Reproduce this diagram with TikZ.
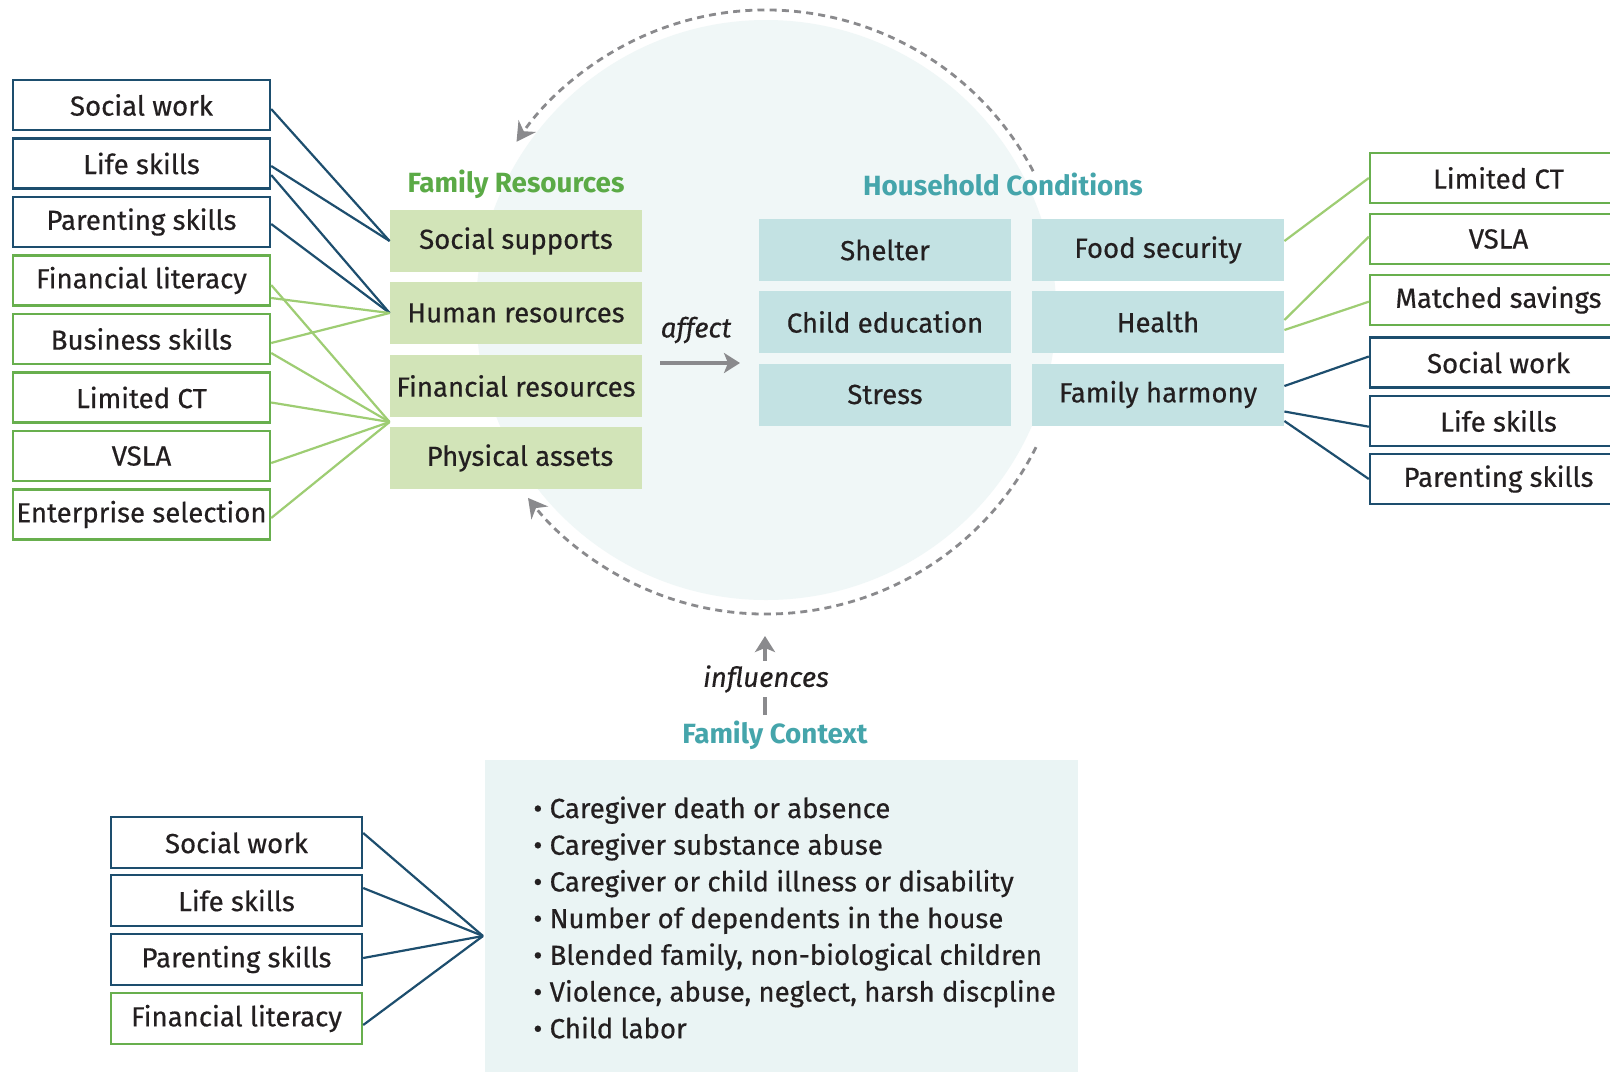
\documentclass[tikz,border=0pt]{standalone}
\usepackage{fontspec}
\setmainfont{Fira Sans}[UprightFeatures={FakeBold=0.45}, ItalicFeatures={FakeBold=0.35}]
\usetikzlibrary{arrows.meta,calc}

\definecolor{ink}{HTML}{231F20}
\definecolor{navy}{HTML}{1D4E6E}
\definecolor{boxgreen}{HTML}{68AF4E}
\definecolor{linegreen}{HTML}{9ECD73}
\definecolor{resfill}{HTML}{D2E4B8}
\definecolor{condfill}{HTML}{C3E2E3}
\definecolor{circfill}{HTML}{F0F7F7}
\definecolor{ctxfill}{HTML}{EAF4F4}
\definecolor{titlegreen}{HTML}{5BAA46}
\definecolor{titleteal}{HTML}{45A5AB}
\definecolor{arrowgray}{HTML}{8A8A8D}

\begin{document}
\begin{tikzpicture}[x=0.5pt,y=0.5pt,
  every node/.style={font=\fontsize{13.8}{17}\selectfont, text=ink},
  navybox/.style={draw=navy, line width=1.2pt, fill=white,
    minimum width=128.5pt, minimum height=25pt, inner sep=0pt},
  greenbox/.style={navybox, draw=boxgreen},
  resbox/.style={fill=resfill, minimum width=126pt, minimum height=31pt, inner sep=0pt},
  condbox/.style={fill=condfill, minimum width=126pt, minimum height=31pt, inner sep=0pt},
  heading/.style={font=\fontsize{13.9}{17}\selectfont\bfseries},
  navyline/.style={draw=navy, line width=1.1pt},
  greenline/.style={draw=linegreen, line width=1.1pt},
  cyclearc/.style={draw=arrowgray, line width=1.4pt, dash pattern=on 3.5pt off 2.6pt,
    -{Stealth[length=9.5pt,width=10.5pt]}},
  flow/.style={draw=arrowgray, line width=1.6pt, -{Stealth[length=8pt,width=10pt,inset=2pt]}},
]
\useasboundingbox (0,0) rectangle (1610,-1071);
\clip (0,0) rectangle (1610,-1071);
\fill[white] (0,0) rectangle (1610,-1071);

% background disc and the feedback cycle
\coordinate (cyc) at (766,-312);
\fill[circfill] (766,-310) circle[radius=145pt];
\draw[cyclearc] ($(cyc)+(27.8:151pt)$) arc[start angle=27.8, end angle=145.7, radius=151pt];
\draw[cyclearc] ($(cyc)+(-26.6:151pt)$) arc[start angle=-26.6, end angle=-142, radius=151pt];

% family resources
\node[heading, text=titlegreen] (frt) at (516,-184) {Family Resources};
\node[resbox] (ssup) at (516,-241) {Social supports};
\node[resbox] (hres) at (516,-313) {Human resources};
\node[resbox] (fres) at (516,-386) {Financial resources};
\node[resbox] (pass) at (516,-458) {\hspace{4pt}Physical assets};
\coordinate (jfin) at ($(fres.south west)!0.5!(pass.north west)$);

% household conditions
\node[heading, text=titleteal] (hct) at (1003,-184) {Household Conditions};
\node[condbox] (shel) at (885,-250) {Shelter};
\node[condbox] (cedu) at (885,-322) {Child education};
\node[condbox] (strs) at (885,-394.5) {Stress};
\node[condbox] (food) at (1158,-250) {Food security};
\node[condbox] (hlth) at (1158,-322) {Health};
\node[condbox] (harm) at (1158,-394.5) {Family harmony};

% affect arrow
\node (aff) at (696,-330) {\itshape affect};
\coordinate (afa) at (660,-363);
\coordinate (afb) at (740,-363);
\draw[flow] (afa) -- (afb);

% left interventions
\node[navybox] (lsw) at (141.5,-105) {Social work};
\node[navybox] (lls) at (141.5,-163.5) {Life skills};
\node[navybox] (lps) at (141.5,-222) {Parenting skills};
\node[greenbox] (lfl) at (141.5,-280.5) {Financial literacy};
\node[greenbox] (lbs) at (141.5,-339) {Business skills};
\node[greenbox] (lct) at (141.5,-397.5) {Limited CT};
\node[greenbox] (lvs) at (141.5,-456) {VSLA};
\node[greenbox] (les) at (141.5,-514.5) {Enterprise selection};

\draw[navyline] ($(lsw.east)+(0,-4)$) -- (ssup.west);
\draw[navyline] ($(lls.east)+(0,-2.5)$) -- (ssup.west);
\draw[navyline] ($(lls.east)+(0,-11.5)$) -- (hres.west);
\draw[navyline] ($(lps.east)+(0,-2)$) -- (hres.west);
\draw[greenline] ($(lfl.east)+(0,-17.5)$) -- (hres.west);
\draw[greenline] ($(lbs.east)+(0,-4)$) -- (hres.west);
\draw[greenline] ($(lfl.east)+(0,-4.5)$) -- (jfin);
\draw[greenline] ($(lbs.east)+(0,-14)$) -- (jfin);
\draw[greenline] ($(lct.east)+(0,-5)$) -- (jfin);
\draw[greenline] ($(lvs.east)+(0,-7)$) -- (jfin);
\draw[greenline] ($(les.east)+(0,-3.5)$) -- (jfin);

% right interventions
\node[greenbox] (rct) at (1498.5,-178) {Limited CT};
\node[greenbox] (rvs) at (1498.5,-239) {VSLA};
\node[greenbox] (rms) at (1498.5,-300) {Matched savings};
\node[navybox] (rsw) at (1498.5,-362.5) {Social work};
\node[navybox] (rls) at (1498.5,-421) {Life skills};
\node[navybox] (rps) at (1498.5,-479) {Parenting skills};

\draw[greenline] ($(food.east)+(0,9)$) -- (rct.west);
\draw[greenline] ($(hlth.east)+(0,2)$) -- ($(rvs.west)+(0,2.3)$);
\draw[greenline] ($(hlth.east)+(0,-8)$) -- ($(rms.west)+(0,-1.7)$);
\draw[navyline] ($(harm.east)+(0,8.5)$) -- ($(rsw.west)+(0,6)$);
\draw[navyline] ($(harm.east)+(0,-17)$) -- ($(rls.west)+(0,-5.7)$);
\draw[navyline] ($(harm.east)+(0,-26.5)$) -- (rps.west);

% family context
\node[heading, text=titleteal] (fct) at (775,-735) {Family Context};
\coordinate (inftail) at (765,-715);
\coordinate (inftip) at (765,-636);
\draw[flow] (inftail) -- (inftip);
\node[fill=white, inner sep=2pt] (infl) at (766,-679) {\itshape influences};

\node[fill=ctxfill, minimum width=296.5pt, minimum height=156pt, inner sep=0pt] (ctx) at (781.5,-916) {};
\node[anchor=west, align=left, inner sep=0pt, font=\fontsize{13.8}{18.35}\selectfont] (lst) at (533,-917.5) {%
  • Caregiver death or absence\\
  • Caregiver substance abuse\\
  • Caregiver or child illness or disability\\
  • Number of dependents in the house\\
  • Blended family, non-biological children\\
  • Violence, abuse, neglect, harsh discpline\\
  • Child labor};

\coordinate (cin) at (483,-936);
\node[navybox, minimum width=125.5pt, minimum height=25.5pt] (bsw) at (236.5,-842.5) {Social work};
\node[navybox, minimum width=125.5pt, minimum height=25.5pt] (bls) at (236.5,-900.5) {Life skills};
\node[navybox, minimum width=125.5pt, minimum height=25.5pt] (bps) at (236.5,-959.5) {Parenting skills};
\node[greenbox, minimum width=125.5pt, minimum height=25.5pt] (bfl) at (236.5,-1018.5) {Financial literacy};

\draw[navyline] ($(bsw.east)+(0,9.5)$) -- (cin);
\draw[navyline] ($(bls.east)+(0,12.5)$) -- (cin);
\draw[navyline] ($(bps.east)+(0,1.5)$) -- (cin);
\draw[navyline] ($(bfl.east)+(0,-6.5)$) -- (cin);
\end{tikzpicture}
\end{document}
